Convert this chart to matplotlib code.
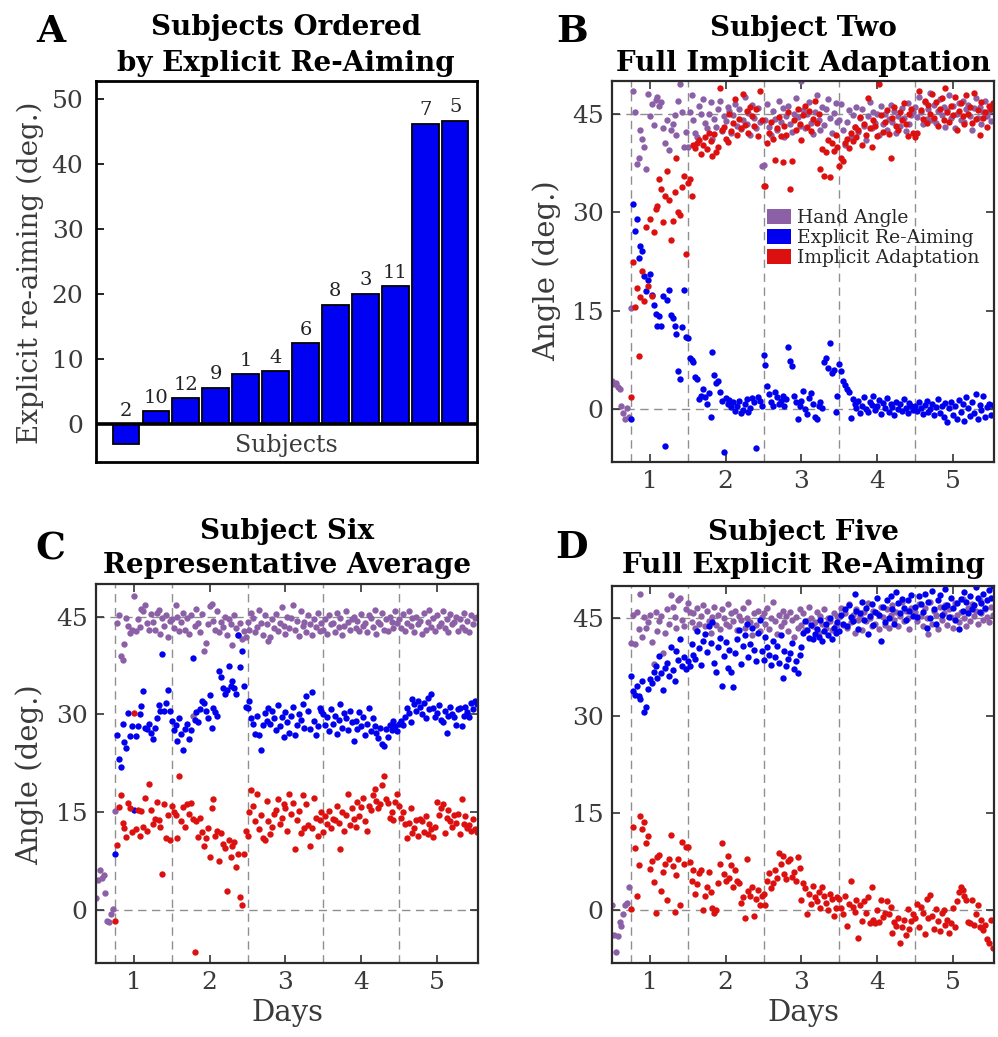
import numpy as np
import matplotlib.pyplot as plt
from matplotlib.patches import Patch

plt.rcParams['font.family'] = 'DejaVu Serif'

# ---- panel A: mean explicit re-aiming per subject (deg.) ----
subjects = ['2', '10', '12', '9', '1', '4', '6', '8', '3', '11', '7', '5']
reaim = [-3.1, 2.0, 4.0, 5.6, 7.7, 8.1, 12.4, 18.3, 20.0, 21.2, 46.1, 46.6]

# ---- trial-by-trial angles (deg.) ----
# baseline trials are hand angle only; training days 1-5 follow
# (day 1: 30 trials, days 2-4: 40 trials, day 5: 42 trials)

# subject two
s2_base = [4.2, 3.8, 4.0, 3.4, 3.0, 0.4, -0.6, -1.6, 0.2, -1.2]
s2_hand = (
    [15.4, 48.4, 45.2, 37.4, 38.3, 42.6, 41.2, 40.0, 36.6, 48.0,
     44.6, 46.5, 43.3, 47.1, 47.6, 46.2, 46.8, 42.8, 40.6, 44.0,
     39.5, 42.5, 43.4, 44.8, 41.8, 47.0, 49.6, 45.3, 40.0, 42.2]
    + [40.0, 45.2, 47.8, 44.0, 42.0, 41.5, 46.2, 45.0, 47.3, 43.6,
       42.8, 44.9, 46.8, 41.2, 44.2, 43.0, 45.8, 47.0, 42.4, 44.6,
       43.9, 46.1, 45.4, 42.1, 44.8, 46.5, 43.2, 45.7, 42.7, 44.1,
       47.5, 43.5, 45.1, 41.8, 46.4, 44.4, 42.9, 45.9, 43.7, 37.1]
    + [37.2, 44.0, 46.5, 43.0, 41.8, 45.4, 44.2, 42.6, 47.0, 43.8,
       45.9, 41.5, 44.7, 46.2, 43.4, 42.2, 45.0, 47.4, 44.5, 43.1,
       50.0, 45.6, 42.8, 44.9, 46.8, 43.6, 41.9, 45.3, 47.8, 44.1,
       42.5, 46.0, 43.3, 45.7, 47.2, 44.4, 42.0, 45.1, 46.6, 43.8]
    + [44.0, 46.5, 42.5, 40.2, 43.8, 45.6, 41.5, 44.8, 43.0, 46.0,
       42.2, 44.4, 45.8, 43.2, 41.0, 44.6, 46.8, 42.8, 45.2, 43.6,
       44.9, 41.8, 46.2, 43.4, 45.0, 42.6, 44.2, 46.4, 43.8, 45.5,
       42.0, 44.7, 43.1, 45.9, 44.3, 42.4, 46.6, 43.5, 44.8, 45.3]
    + [46.0, 44.5, 47.6, 45.2, 43.4, 46.8, 44.2, 45.8, 48.2, 44.0,
       46.4, 43.6, 45.4, 47.2, 44.8, 46.0, 43.0, 45.6, 47.8, 44.4,
       46.2, 42.8, 45.0, 46.6, 44.1, 47.0, 43.8, 45.7, 46.3, 44.6,
       42.6, 45.9, 47.4, 44.3, 46.1, 43.5, 45.3, 46.9, 44.7, 45.5,
       43.9, 46.4]
)
s2_expl = (
    [-1.5, 31.2, 27.2, 29.0, 23.0, 24.9, 24.0, 20.2, 18.0, 19.7,
     20.6, 17.3, 15.8, 14.4, 12.6, 14.2, 12.6, 17.2, -5.7, 16.6,
     18.2, 14.3, 13.9, 12.6, 11.4, 5.8, 4.6, 12.5, 18.2, 11.0]
    + [10.8, 7.8, 7.5, 7.2, 4.8, 4.5, 1.5, 2.0, 3.0, 1.8,
       0.8, 2.4, -1.2, 8.7, 5.2, 4.0, 4.2, 2.5, 1.2, -6.5,
       1.6, 0.8, 1.4, 0.3, 1.0, -0.3, 0.5, 1.2, -0.6, -0.2,
       0.8, 1.5, -0.4, 0.2, 1.6, 1.0, -6.0, 1.8, 1.2, 0.5]
    + [8.2, 6.7, 3.5, 2.2, 1.0, 0.5, 2.5, 1.8, 0.8, 1.2,
       2.0, 0.5, 1.5, 9.5, 7.3, 6.5, 2.0, 1.0, -1.5, 0.5,
       1.2, 2.8, 0.0, -0.8, 1.6, 2.4, 0.8, -1.2, -1.6, 0.4,
       1.0, 0.2, 7.2, 7.8, 6.2, 10.0, 5.5, 6.0, -0.5, 2.0]
    + [6.8, 5.8, 4.2, 3.6, 3.0, 2.6, -1.4, 1.5, 0.8, 0.2,
       1.2, -0.6, 0.5, 1.8, 0.0, -0.4, 1.0, 0.6, 2.0, -0.2,
       0.4, 1.4, -0.8, 0.9, 0.1, 1.6, -0.5, 0.7, 0.3, -0.9,
       1.1, 0.0, 0.8, -0.3, 1.5, 0.2, -0.6, 0.9, 0.4, -0.1]
    + [0.5, -0.3, 1.0, 0.2, -0.8, 0.6, 1.2, -0.5, 0.0, 0.8,
       -1.0, 0.3, 1.5, -0.6, 0.4, -1.2, 0.9, -2.0, 0.1, 1.1,
       -0.9, 0.5, -1.5, 1.4, -0.4, 0.7, -1.8, 1.8, 0.2, -1.1,
       1.0, -0.7, 2.2, -1.6, 0.6, -0.2, 1.9, -1.3, 0.3, 0.8,
       -1.0, 0.6]
)
s2_impl = (
    [1.8, 22.4, 15.5, 18.5, 8.0, 17.0, 21.0, 16.5, 27.8, 18.8,
     29.0, 17.2, 27.0, 30.5, 31.0, 35.0, 33.5, 28.5, 32.5, 36.2,
     31.8, 25.7, 28.7, 33.0, 38.3, 30.0, 29.6, 33.8, 35.5, 23.6]
    + [34.5, 35.0, 32.5, 40.2, 39.8, 40.5, 41.0, 38.8, 40.3, 41.5,
       39.6, 42.0, 40.8, 38.6, 41.9, 39.2, 40.0, 49.0, 42.5, 43.0,
       41.2, 40.7, 45.0, 42.4, 43.6, 47.2, 41.8, 44.2, 42.9, 48.0,
       43.3, 45.5, 42.0, 46.0, 44.6, 43.1, 45.8, 41.6, 48.5, 44.0]
    + [34.0, 34.0, 40.5, 42.0, 43.8, 41.2, 38.0, 42.8, 44.5, 41.6,
       37.6, 43.2, 41.8, 45.2, 33.6, 37.8, 44.0, 42.6, 45.8, 43.5,
       41.0, 44.8, 46.2, 43.0, 45.5, 42.4, 44.2, 47.0, 43.6, 45.0,
       36.6, 39.7, 35.5, 39.2, 41.0, 35.3, 40.5, 39.4, 41.8, 40.0]
    + [37.0, 38.2, 37.8, 40.5, 41.2, 39.8, 42.0, 40.8, 43.0, 41.5,
       42.6, 44.5, 40.2, 43.4, 41.8, 47.4, 42.9, 39.9, 44.0, 43.2,
       41.6, 49.6, 44.8, 42.2, 43.7, 45.6, 41.9, 38.2, 44.3, 46.0,
       43.1, 42.5, 45.2, 44.0, 46.6, 43.5, 41.6, 44.9, 45.8, 42.0]
    + [41.5, 42.0, 48.5, 45.6, 44.2, 47.0, 43.6, 46.4, 45.0, 48.0,
       44.4, 46.8, 43.2, 45.8, 47.4, 44.0, 49.0, 45.2, 43.8, 46.2,
       44.8, 47.6, 42.6, 45.4, 46.6, 44.6, 43.4, 47.8, 45.0, 46.0,
       43.6, 48.2, 44.2, 45.6, 41.8, 46.8, 44.4, 45.2, 43.0, 46.2,
       45.8, 46.6]
)

# subject six
s6_base = [1.8, 4.6, 6.2, 5.0, 5.4, 2.6, -1.6, -1.8, -0.6, 0.2]
s6_hand = (
    [15.2, 44.0, 45.2, 39.0, 38.4, 40.8, 44.8, 43.6, 42.5, 43.0,
     48.2, 42.8, 44.6, 43.4, 46.2, 45.9, 46.8, 44.0, 42.9, 45.4,
     44.2, 43.0, 45.6, 46.0, 42.4, 44.8, 43.6, 45.2, 41.8, 44.4]
    + [44.6, 43.2, 46.8, 45.0, 42.8, 44.2, 45.6, 43.0, 44.8, 42.4,
       45.2, 29.8, 43.6, 46.2, 44.0, 42.6, 45.4, 39.8, 41.0, 43.8,
       46.6, 46.9, 44.4, 43.0, 45.8, 42.6, 44.2, 43.4, 45.0, 42.2,
       44.6, 43.8, 40.6, 45.2, 43.2, 42.2, 44.0, 41.6, 42.8, 41.8]
    + [44.2, 43.0, 45.6, 44.8, 42.6, 43.4, 46.0, 44.0, 42.2, 45.2,
       43.8, 41.2, 41.8, 44.6, 43.2, 45.4, 42.8, 44.0, 46.4, 43.6,
       42.4, 45.0, 43.2, 44.8, 46.8, 43.0, 44.4, 42.0, 45.8, 43.6,
       44.2, 42.6, 45.2, 43.8, 42.2, 44.6, 43.4, 45.6, 42.8, 44.0]
    + [43.0, 44.6, 42.4, 45.2, 43.8, 44.0, 42.6, 45.6, 43.4, 44.8,
       42.2, 43.6, 45.8, 44.2, 43.0, 44.6, 45.0, 43.2, 44.4, 42.8,
       45.4, 43.6, 44.0, 42.6, 45.2, 44.8, 43.4, 46.0, 42.4, 44.2,
       43.8, 45.6, 43.0, 44.6, 42.8, 45.0, 44.2, 43.2, 45.8, 44.0]
    + [44.6, 43.2, 45.4, 42.8, 44.0, 45.8, 43.6, 44.8, 42.6, 45.0,
       43.8, 44.4, 42.4, 45.6, 43.0, 44.2, 46.0, 43.4, 44.8, 42.8,
       45.2, 43.6, 44.0, 45.8, 43.2, 44.6, 42.6, 45.4, 43.8, 44.2,
       45.0, 42.8, 44.6, 43.4, 45.6, 43.0, 44.4, 42.6, 45.2, 43.8,
       44.8, 45.0]
)
s6_expl = (
    [8.6, 26.8, 23.2, 21.9, 28.6, 25.8, 24.9, 30.2, 26.7, 28.2,
     15.3, 26.7, 28.2, 30.0, 31.3, 33.6, 28.0, 27.7, 28.6, 27.2,
     26.3, 28.0, 29.5, 31.5, 30.6, 39.3, 30.5, 31.8, 33.7, 30.5]
    + [29.0, 27.6, 28.4, 26.0, 29.4, 27.0, 24.6, 27.8, 28.6, 26.2,
       27.6, 38.6, 29.2, 30.4, 28.8, 30.8, 32.0, 31.8, 30.6, 29.4,
       33.0, 28.0, 31.0, 30.4, 29.8, 36.6, 35.8, 34.0, 33.2, 33.8,
       37.4, 34.4, 35.2, 34.0, 33.2, 42.2, 37.2, 39.8, 34.4, 31.2]
    + [31.0, 32.0, 29.4, 28.6, 27.0, 29.8, 26.8, 24.6, 28.4, 30.2,
       29.0, 31.0, 28.6, 30.6, 29.4, 27.6, 31.4, 28.2, 29.6, 26.6,
       30.4, 28.8, 27.2, 29.8, 31.2, 26.8, 28.4, 30.0, 29.2, 31.6,
       28.0, 32.8, 30.6, 27.8, 33.4, 29.0, 26.8, 28.2, 31.0, 30.6]
    + [30.0, 28.4, 29.6, 27.4, 30.8, 28.6, 29.8, 27.0, 29.2, 31.6,
       28.0, 30.2, 29.4, 27.6, 30.6, 28.8, 26.0, 29.0, 27.8, 30.4,
       28.2, 29.6, 26.8, 28.6, 31.0, 27.4, 29.4, 28.2, 27.2, 26.4,
       28.0, 25.4, 25.2, 27.8, 26.6, 28.4, 27.6, 29.0, 28.2, 27.4]
    + [28.6, 29.0, 28.4, 29.6, 31.0, 30.2, 28.8, 32.4, 31.6, 30.6,
       32.0, 31.2, 30.0, 31.8, 29.4, 32.6, 30.8, 33.2, 31.0, 29.6,
       30.2, 31.4, 29.2, 28.8, 30.6, 27.2, 29.8, 31.2, 30.0, 29.6,
       28.4, 30.8, 31.0, 28.2, 29.8, 31.2, 30.4, 29.6, 31.8, 30.8,
       32.0, 31.6]
)
s6_impl = (
    [-1.6, 10.0, 15.8, 17.6, 13.4, 12.6, 11.2, 16.4, 15.6, 12.0,
     30.2, 12.4, 15.4, 11.4, 15.2, 12.8, 17.2, 12.2, 19.4, 15.4,
     13.2, 14.0, 16.6, 13.8, 12.8, 5.6, 16.2, 11.0, 14.6, 10.8]
    + [16.0, 15.0, 14.6, 11.0, 20.6, 13.6, 15.8, 12.8, 16.2, 14.8,
       16.4, 14.0, -6.4, 13.6, 11.2, 14.2, 12.0, 9.8, 11.0, 12.6,
       8.2, 15.6, 17.0, 11.4, 12.2, 7.6, 11.8, 10.2, 9.6, 3.0,
       10.8, 8.2, 9.8, 10.4, 6.6, 8.6, 2.0, 0.8, 8.6, 12.2]
    + [11.4, 15.0, 18.4, 16.0, 13.6, 17.8, 12.4, 14.6, 11.0, 10.8,
       16.8, 13.6, 11.6, 12.8, 14.8, 15.4, 17.0, 13.2, 14.2, 16.2,
       15.6, 12.2, 17.8, 14.8, 16.4, 9.4, 13.8, 15.2, 11.8, 17.6,
       12.6, 16.2, 13.0, 9.8, 12.6, 17.2, 14.2, 11.4, 13.8, 15.0]
    + [12.0, 14.4, 13.2, 15.2, 12.6, 14.0, 13.8, 16.0, 13.4, 9.4,
       15.0, 12.2, 14.6, 17.8, 13.0, 15.6, 14.0, 12.8, 16.6, 14.4,
       15.8, 17.2, 13.6, 12.2, 16.0, 15.4, 17.6, 18.6, 16.8, 15.6,
       16.2, 19.2, 20.6, 17.0, 16.4, 14.2, 15.0, 13.8, 16.6, 17.8]
    + [16.0, 14.2, 15.0, 13.2, 11.0, 13.4, 15.6, 11.8, 12.6, 13.8,
       11.4, 14.0, 13.6, 12.0, 14.4, 11.6, 13.2, 12.4, 11.2, 12.8,
       16.6, 14.6, 15.6, 16.2, 11.8, 14.2, 15.4, 13.6, 12.8, 14.6,
       13.4, 14.8, 11.6, 17.0, 13.2, 14.4, 12.6, 13.0, 12.2, 14.0,
       12.4, 12.0]
)

# subject five
s5_base = [0.8, -3.8, -6.4, -4.0, -1.8, -2.4, -0.6, 0.8, 1.2, 3.6]
s5_hand = (
    [41.2, 45.6, 41.0, 46.0, 43.4, 48.8, 42.2, 45.2, 43.6, 44.4,
     45.6, 41.4, 38.0, 46.0, 43.0, 44.6, 45.4, 39.6, 42.8, 46.4,
     44.2, 48.6, 46.8, 45.2, 43.6, 47.8, 48.2, 44.8, 43.8, 46.4]
    + [47.4, 46.0, 44.4, 45.8, 43.6, 46.6, 44.2, 45.4, 47.0, 43.8,
       46.2, 44.6, 42.8, 45.2, 46.8, 44.0, 45.6, 43.4, 46.4, 45.0,
       44.2, 47.2, 43.8, 45.8, 44.6, 46.2, 43.2, 45.4, 44.8, 46.6,
       43.6, 45.0, 47.6, 44.4, 42.4, 45.8, 44.0, 46.2, 43.0, 45.2]
    + [45.8, 44.2, 46.6, 43.4, 45.0, 47.6, 44.6, 42.6, 45.6, 43.8,
       46.2, 44.4, 45.4, 43.0, 46.0, 44.8, 42.2, 45.2, 43.6, 46.4,
       44.0, 45.8, 43.2, 44.6, 46.8, 45.0, 43.8, 44.4, 46.0, 42.8,
       45.4, 44.2, 46.4, 43.6, 45.0, 44.6, 43.2, 45.8, 44.0, 45.4]
    + [45.2, 46.6, 44.0, 45.8, 43.6, 47.2, 44.4, 45.6, 42.8, 46.4,
       44.8, 45.4, 43.2, 46.0, 44.6, 47.4, 45.0, 43.8, 46.2, 44.2,
       45.8, 43.4, 46.8, 45.2, 44.0, 46.4, 43.6, 45.6, 47.0, 44.8,
       46.0, 43.8, 45.4, 47.6, 44.6, 46.2, 45.0, 43.4, 46.6, 45.8]
    + [46.0, 44.6, 47.2, 45.4, 43.8, 46.6, 45.0, 42.6, 47.6, 44.2,
       46.2, 45.6, 43.4, 46.8, 44.8, 45.8, 47.0, 44.0, 46.4, 45.2,
       43.6, 47.4, 45.6, 44.4, 46.0, 48.0, 45.0, 43.8, 46.6, 44.6,
       47.2, 45.4, 46.2, 44.2, 47.8, 45.8, 44.8, 46.4, 45.2, 44.4,
       46.8, 45.6]
)
s5_expl = (
    [36.2, 33.8, 33.2, 34.6, 33.0, 32.6, 35.4, 30.6, 31.4, 34.2,
     35.6, 35.0, 36.8, 37.6, 35.8, 39.2, 36.6, 34.0, 37.4, 38.2,
     36.2, 40.6, 37.0, 35.4, 40.0, 38.6, 41.8, 37.6, 39.0, 37.2]
    + [38.4, 37.6, 41.0, 39.4, 38.8, 43.0, 40.4, 37.8, 41.6, 42.6,
       39.8, 43.8, 41.2, 44.4, 38.2, 36.8, 40.6, 42.0, 34.6, 39.2,
       41.4, 37.4, 40.2, 36.8, 34.4, 39.6, 41.8, 43.2, 38.0, 40.8,
       42.4, 44.2, 39.0, 41.0, 43.6, 40.2, 38.4, 42.8, 44.8, 40.0]
    + [38.6, 42.2, 40.6, 39.4, 37.8, 41.6, 39.0, 40.8, 38.2, 42.4,
       35.8, 40.0, 37.6, 38.8, 39.6, 41.2, 37.2, 38.4, 36.6, 39.4,
       40.6, 42.8, 44.6, 43.2, 42.0, 44.0, 41.8, 42.6, 43.4, 42.2,
       44.8, 41.6, 43.0, 44.2, 42.4, 45.0, 41.8, 43.6, 42.8, 44.4]
    + [43.0, 45.6, 44.2, 46.4, 43.8, 47.0, 45.2, 44.6, 48.8, 46.2,
       43.4, 45.8, 47.6, 44.8, 46.6, 42.6, 45.4, 47.2, 44.0, 46.0,
       48.2, 45.6, 41.6, 46.8, 44.4, 47.8, 45.0, 48.4, 46.4, 44.2,
       49.0, 47.4, 45.8, 48.0, 46.6, 44.8, 47.8, 46.2, 48.6, 45.4]
    + [46.8, 45.2, 48.4, 47.2, 46.0, 48.8, 43.6, 47.6, 45.0, 49.2,
       46.4, 44.2, 47.8, 48.6, 45.6, 46.8, 49.6, 47.0, 45.2, 48.2,
       46.6, 44.8, 47.4, 43.4, 48.0, 46.2, 49.0, 47.6, 45.8, 48.4,
       46.4, 47.0, 49.8, 48.2, 46.0, 47.4, 48.8, 46.6, 47.8, 49.4,
       48.2, 50.0]
)
s5_impl = (
    [0.2, 12.8, 9.6, 2.2, 7.0, 14.6, 12.6, 13.6, 10.4, 11.4,
     6.4, 7.6, 4.4, -0.4, 8.2, 8.6, 3.0, 6.0, 7.2, 1.6,
     8.0, 11.6, 6.8, -0.2, 5.4, 8.0, 0.8, 10.6, 7.2, 9.8]
    + [9.8, 7.4, 4.6, 6.2, 2.6, 4.0, 5.8, 6.2, 0.0, 2.2,
       3.6, 6.0, 2.8, 0.4, -0.4, 0.0, 4.2, 7.2, 10.4, 5.6,
       4.6, 8.4, 5.0, 7.0, 3.6, 6.2, 4.6, 4.2, 1.2, 2.0,
       -1.2, 8.0, 3.0, 2.2, 3.6, -0.8, 1.8, 3.2, 0.8, 2.2]
    + [2.6, 0.8, 4.6, 5.8, 3.4, 4.2, 6.2, 5.0, 8.8, 7.2,
       8.4, 5.6, 4.8, 7.6, 8.0, 5.2, 6.0, 4.6, 8.2, 6.6,
       1.6, 4.2, 3.4, -0.6, 2.6, 1.0, 3.8, 2.0, 1.4, 2.8,
       0.4, 3.6, 2.2, 1.2, 0.0, 2.6, 1.8, -0.8, 0.4, 2.0]
    + [1.8, 0.4, -0.6, 2.2, -2.4, 1.0, 4.6, 0.6, -0.2, 1.6,
       -4.2, 0.8, -1.6, 1.4, -0.4, 2.0, -2.0, 3.6, -1.4, -2.0,
       0.0, -1.8, 1.6, -1.0, -0.4, 1.4, -0.6, 0.6, -3.4, -1.8,
       -2.4, -1.2, -5.0, -2.6, -1.4, -3.8, 0.2, -2.8, -1.6, -0.6]
    + [-1.2, 1.0, -2.6, 0.6, -0.4, -3.6, 1.8, -1.2, 2.4, -0.8,
       -2.8, 0.2, -1.6, -3.2, -0.4, 0.0, -2.2, -1.4, -3.4, -2.0,
       0.4, -2.6, 1.4, 2.8, 3.6, 3.2, 2.2, 1.6, -1.8, -2.0,
       1.6, -2.2, -0.6, 0.8, -2.6, -1.4, -3.0, -2.2, -4.4, -5.0,
       -1.4, -5.8]
)

day_edges = [0.75, 1.5, 2.5, 3.5, 4.5]
trial_step = 0.025

PURPLE = '#8c60a6'
BLUE = '#0000ee'
RED = '#dd1010'
GRAY_TXT = '#3a3a3a'

W, H = 998, 1037
fig = plt.figure(figsize=(W / 100, H / 100), dpi=100)


def add_ax(l, t, r, b):
    return fig.add_axes([l / W, 1 - b / H, (r - l) / W, (b - t) / H])


def ftext(x, y, s, **kw):
    fig.text(x / W, 1 - y / H, s, **kw)


def trial_panel(ax, base, hand, expl, impl):
    x_base = 0.5 + trial_step * np.arange(len(base))
    x_train = day_edges[0] + trial_step * np.arange(len(hand))
    for xv in day_edges:
        ax.axvline(xv, color='#8f8f8f', lw=1.0, dashes=(6, 4), zorder=1)
    for yv in (0, 45):
        ax.axhline(yv, color='#8f8f8f', lw=1.0, dashes=(6, 4), zorder=1)
    kw = dict(s=21, linewidths=0, zorder=2)
    ax.scatter(np.concatenate([x_base, x_train]), base + hand, color=PURPLE, **kw)
    ax.scatter(x_train, expl, color=BLUE, **kw)
    ax.scatter(x_train, impl, color=RED, **kw)
    ax.set_xlim(0.5, 5.54)
    ax.set_ylim(-8.1, 50)
    ax.set_xticks([1, 2, 3, 4, 5])
    ax.set_yticks([0, 15, 30, 45])
    ax.tick_params(direction='in', length=6, width=1.2, top=True, right=True,
                   labelsize=18, labelcolor=GRAY_TXT, color='#333333')
    ax.tick_params(axis='y', pad=6)
    ax.tick_params(axis='x', pad=6)
    for sp in ax.spines.values():
        sp.set_linewidth(1.6)
        sp.set_color('#2a2a2a')


# ---- A: bar chart ----
axA = add_ax(96, 81, 477, 462)
pos = np.arange(1, len(reaim) + 1)
axA.bar(pos, reaim, width=0.89, color='#0000f2', edgecolor='black', linewidth=1.3, zorder=2)
axA.axhline(0, color='black', lw=2.6, zorder=3)
for p, lab, v in zip(pos, subjects, reaim):
    axA.text(p, max(v, 0) + 0.7, lab, ha='center', va='bottom', fontsize=14, color='#222222')
axA.text(0.5, -4.25, 'Subjects', transform=axA.get_yaxis_transform(),
         ha='center', va='baseline', fontsize=17, color=GRAY_TXT)
axA.set_xlim(0, 12.73)
axA.set_ylim(-5.8, 52.7)
axA.set_xticks([])
axA.set_yticks(range(0, 51, 10))
axA.tick_params(axis='y', direction='in', length=6, width=1.2, labelsize=18,
                labelcolor=GRAY_TXT, pad=9)
for sp in axA.spines.values():
    sp.set_linewidth(2.0)
    sp.set_color('black')

# ---- B, C, D: trial-by-trial scatter ----
axB = add_ax(612, 81, 994, 462)
trial_panel(axB, s2_base, s2_hand, s2_expl, s2_impl)
axC = add_ax(96, 584, 478, 963)
trial_panel(axC, s6_base, s6_hand, s6_expl, s6_impl)
axD = add_ax(612, 586, 994, 963)
trial_panel(axD, s5_base, s5_hand, s5_expl, s5_impl)

handles = [Patch(facecolor=c, edgecolor='none') for c in (PURPLE, BLUE, RED)]
axB.legend(handles, ['Hand Angle', 'Explicit Re-Aiming', 'Implicit Adaptation'],
           loc='upper left', bbox_to_anchor=(0.405, 0.665), frameon=False,
           fontsize=13.5, handlelength=1.3, handleheight=0.85, handletextpad=0.3,
           labelspacing=0.12, borderpad=0, borderaxespad=0, labelcolor='#262626')

# titles, panel letters and axis labels
title_kw = dict(ha='center', va='baseline', fontsize=20, fontweight='bold', color='black')
ftext(286, 35, 'Subjects Ordered', **title_kw)
ftext(286, 71, 'by Explicit Re-Aiming', **title_kw)
ftext(803, 36, 'Subject Two', **title_kw)
ftext(803, 71, 'Full Implicit Adaptation', **title_kw)
ftext(287, 539, 'Subject Six', **title_kw)
ftext(287, 573, 'Representative Average', **title_kw)
ftext(803, 540, 'Subject Five', **title_kw)
ftext(803, 573, 'Full Explicit Re-Aiming', **title_kw)

letter_kw = dict(ha='center', va='baseline', fontsize=27, fontweight='bold', color='black')
ftext(51, 42, 'A', **letter_kw)
ftext(572, 42, 'B', **letter_kw)
ftext(50, 559, 'C', **letter_kw)
ftext(572, 558, 'D', **letter_kw)

ylab_kw = dict(ha='center', va='center', rotation=90, color=GRAY_TXT)
ftext(30, 273, 'Explicit re-aiming (deg.)', fontsize=20, **ylab_kw)
ftext(547, 271, 'Angle (deg.)', fontsize=21, **ylab_kw)
ftext(30, 775, 'Angle (deg.)', fontsize=21, **ylab_kw)

xlab_kw = dict(ha='center', va='baseline', fontsize=21, color=GRAY_TXT)
ftext(287, 1021, 'Days', **xlab_kw)
ftext(803, 1021, 'Days', **xlab_kw)

fig.savefig('out.png', dpi=100)
